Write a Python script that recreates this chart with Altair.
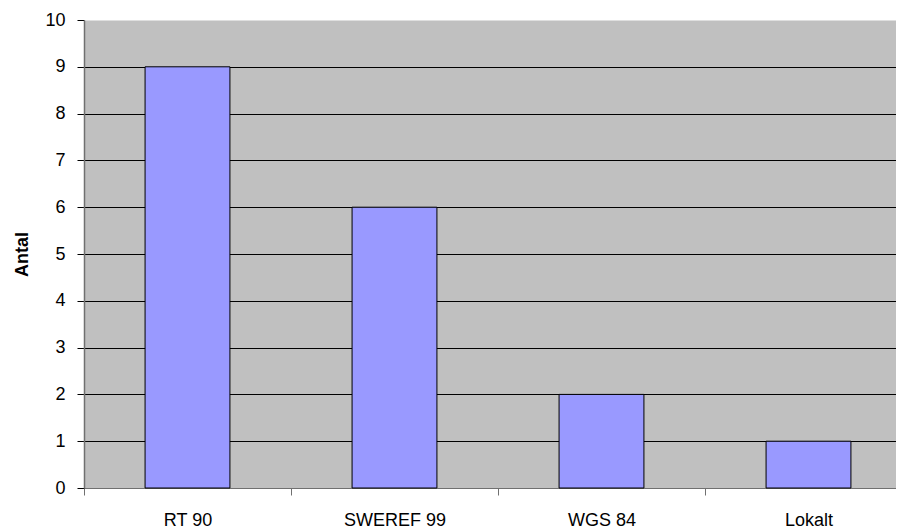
import json
import altair as alt
import pandas as pd

categories = ["RT 90", "SWEREF 99", "WGS 84", "Lokalt"]
values = [9, 6, 2, 1]
y_ticks = list(range(0, 11))

df = pd.DataFrame({"cat": categories, "antal": values, "idx": list(range(len(categories)))})

FONT = "Liberation Sans"
STEP = 207          # pixel width of one category slot
PLOT_W = 812        # visible plot width (reference continues past the window edge)
BAR = 0.41          # bar width as a fraction of a slot

label_expr = json.dumps(categories) + "[datum.value]"

chart = (
    alt.Chart(df)
    .transform_calculate(
        x0=f"datum.idx + {0.5 - BAR / 2}",
        x1=f"datum.idx + {0.5 + BAR / 2}",
    )
    .mark_bar(fill="#9999FF", stroke="black", strokeWidth=1)
    .encode(
        x=alt.X(
            "x0:Q",
            scale=alt.Scale(domain=[0, PLOT_W / STEP], nice=False, zero=False, padding=0),
            axis=alt.Axis(
                title=None,
                values=list(range(len(categories))),
                labelExpr=label_expr,
                labelOffset=STEP / 2,
                labelFlush=False,
                labelOverlap=False,
                labelBound=False,
                labelAngle=0,
                labelAlign="center",
                grid=False,
                domainColor="#707070",
                domainWidth=1,
                tickColor="#707070",
                tickSize=7,
                labelPadding=16,
                labelFont=FONT,
                labelFontSize=18,
                labelColor="black",
            ),
        ),
        x2="x1:Q",
        y=alt.Y(
            "antal:Q",
            scale=alt.Scale(domain=[0, 10], nice=False, padding=0),
            axis=alt.Axis(
                title="Antal",
                values=y_ticks,
                grid=True,
                gridColor={
                    "condition": {"test": "datum.value === 10", "value": "transparent"},
                    "value": "black",
                },
                gridWidth=1,
                domainColor="#707070",
                domainWidth=1.5,
                tickColor="black",
                tickSize=7,
                labelPadding=12,
                labelFont=FONT,
                labelFontSize=18,
                labelColor="black",
                titleFont=FONT,
                titleFontSize=18,
                titleFontWeight="bold",
                titleColor="black",
                titleX=-57,
                titleY=234,
                titleAlign="center",
                titleBaseline="alphabetic",
            ),
        ),
        y2=alt.datum(0),
    )
    .properties(
        width=PLOT_W,
        height=468,
        autosize=alt.AutoSizeParams(type="none"),
        padding={"left": 76, "top": 12, "right": 0, "bottom": 40},
    )
    .configure_view(fill="#C0C0C0", stroke="transparent")
)

chart.save("out.html", embed_options={"renderer": "svg", "actions": False})
